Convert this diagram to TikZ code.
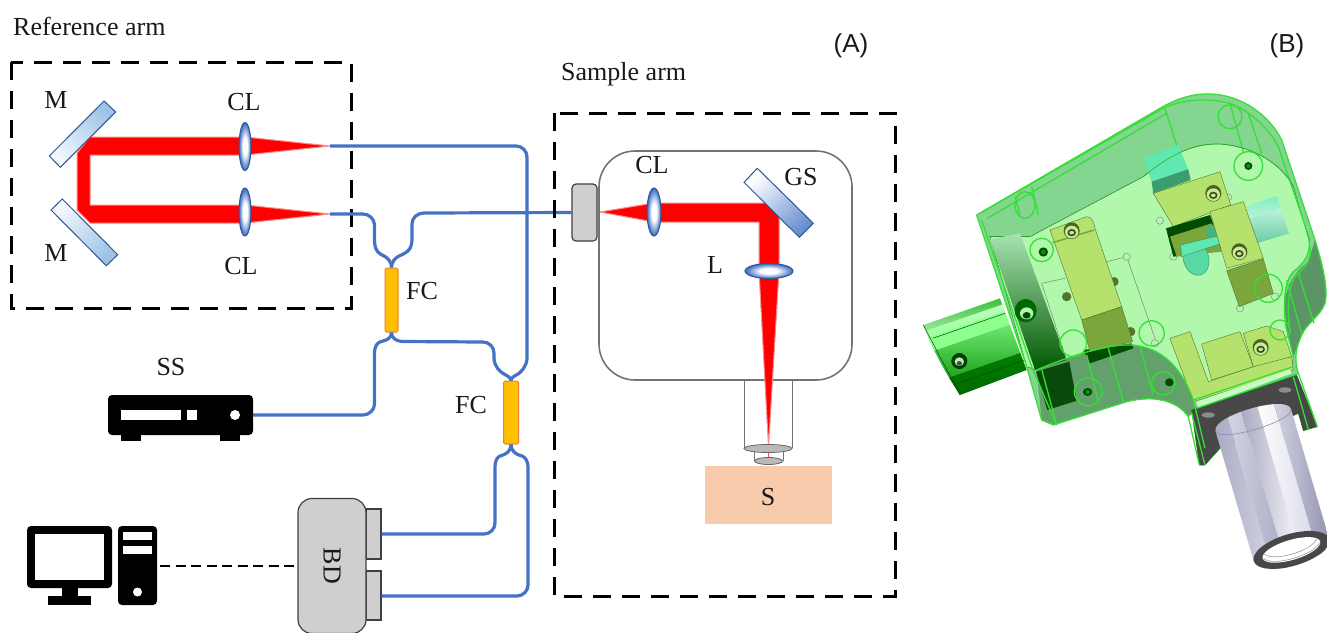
\documentclass[tikz,border=0pt]{standalone}
\usepackage{fontspec}
\setmainfont{Liberation Serif}
\setsansfont{Liberation Sans}
\usetikzlibrary{calc}
\definecolor{fibre}{HTML}{4472C4}
\definecolor{lensedge}{HTML}{2F5597}
\definecolor{mirrorA}{HTML}{9DC3E6}
\definecolor{mirrorB}{HTML}{F2F7FC}
\definecolor{devgray}{HTML}{D0CECE}
\definecolor{fcfill}{HTML}{FFC000}
\definecolor{fcedge}{HTML}{ED7D31}
\definecolor{samplefill}{HTML}{F8CBAD}
\definecolor{bodyDark}{HTML}{83D590}
\definecolor{bodyLight}{HTML}{B2F8AC}
\definecolor{wire}{HTML}{35E035}
\definecolor{yellowA}{HTML}{B4E26C}
\definecolor{yellowB}{HTML}{7BA63C}
\definecolor{tealA}{HTML}{5FE8B0}
\definecolor{tealB}{HTML}{3B9C6C}
\definecolor{silverA}{HTML}{A6A6C0}
\definecolor{silverB}{HTML}{D6D6E6}
\definecolor{silverC}{HTML}{8C8CAA}
\pgfdeclareradialshading{lensshade}{\pgfpoint{0bp}{0bp}}{color(0bp)=(white);color(9bp)=(white);color(24bp)=(fibre);color(50bp)=(fibre)}
\tikzset{
 txt/.style={font=\fontsize{26}{26}\selectfont,inner sep=0pt,text=black!90},
 sanstxt/.style={font=\sffamily\fontsize{26}{26}\selectfont,inner sep=0pt,text=black!90},
 armbox/.style={draw=black,line width=3pt,dash pattern=on 18pt off 11pt},
 fibreline/.style={draw=fibre,line width=3.2pt},
 beam/.style={fill=red,draw=red!45,line width=1pt,line join=round},
 mirror/.style={draw=lensedge,line width=1pt},
 lens/.style={draw=lensedge,line width=1pt,shading=lensshade},
 fc/.style={draw=fcedge,line width=1pt,fill=fcfill,rounded corners=1.5pt,inner sep=0pt},
 dev/.style={draw=black!75,line width=1.2pt,fill=devgray,inner sep=0pt},
 icon/.style={fill=black,rounded corners=4pt},
 hole/.style={fill=white},
 wireline/.style={draw=wire,line width=1.3pt},
 wirethin/.style={draw=wire!80!black,line width=.6pt},
 blocka/.style={fill=yellowA,draw=yellowB!70!black,line width=.4pt,line join=round},
 blockb/.style={fill=yellowB,draw=yellowB!70!black,line width=.4pt,line join=round},
}
\newcommand{\screw}[2]{%
 \fill[yellowB!60!black] (#1,#2) ellipse (24 and 25);
 \fill[yellowA!70!white] (#1,#2+4) ellipse (20 and 19);
 \fill[yellowB!50!black] (#1,#2+6) ellipse (13 and 11);
 \fill[yellowA!70!white] (#1,#2+6) ellipse (7 and 5);
}
\begin{document}
\begin{tikzpicture}[x=1pt,y=-1pt]
\useasboundingbox (0,0) rectangle (1327,632);
% ---------------- panel labels
\node[txt,anchor=west] (refl) at (13,26) {Reference arm};
\node[txt,anchor=west] (saml) at (561,74) {Sample arm};
\node[sanstxt] (A) at (851,46) {(A)};
\node[sanstxt] (B) at (1287,46) {(B)};
% ---------------- reference arm
\draw[beam] (90,137) -- (245,137) -- (245,155) -- (90,155) -- (90,205) -- (245,205) -- (245,223) -- (90,223) -- (77,210) -- (77,153) -- cycle;
\draw[beam] (245,137) -- (330,146) -- (245,155) -- cycle;
\draw[beam] (245,205) -- (330,214) -- (245,223) -- cycle;
\shade[mirror,left color=mirrorA,right color=mirrorB,shading angle=-45] (104,101) -- (115.7,112) -- (60.3,167.3) -- (49.3,156) -- cycle;
\shade[mirror,left color=mirrorB,right color=mirrorA,shading angle=45] (62.3,199) -- (51,210) -- (106.3,265.7) -- (117.7,254.7) -- cycle;
\shade[lens] (245,146.5) ellipse (6 and 24);
\shade[lens] (245,212) ellipse (6 and 24);
\coordinate (tipa) at (330,146);
\coordinate (tipb) at (330,214);
\node[txt] (m1) at (56,100) {M};
\node[txt] (m2) at (56,253) {M};
\node[txt] (cl1) at (244,102) {CL};
\node[txt] (cl2) at (241,266) {CL};
\draw[armbox] (11,62) rectangle (351,308);
% ---------------- couplers
\node[fc,minimum width=13pt,minimum height=64pt] (fca) at (391.5,300) {};
\node[fc,minimum width=15pt,minimum height=63pt] (fcb) at (511,412.5) {};
\node[txt] (fcal) at (422,291) {FC};
\node[txt] (fcbl) at (471,405) {FC};
% ---------------- devices
\node[dev,rounded corners=4pt,minimum width=25pt,minimum height=57pt] (coll) at (584.5,212.5) {};
\node[dev,minimum width=15pt,minimum height=50pt] (pa) at (373.5,534) {};
\node[dev,minimum width=15pt,minimum height=49pt] (pb) at (373.5,595.5) {};
\node[dev,rounded corners=14pt,minimum width=68pt,minimum height=135pt] (bd) at (332,566) {};
\node[txt,rotate=-90] (bdl) at (332,566) {BD};
\node[inner sep=0pt,minimum width=145pt,minimum height=40pt] (ss) at (180.5,415) {};
\node[inner sep=0pt,minimum width=130pt,minimum height=79pt] (pc) at (92,566) {};
\node[txt] (ssl) at (171,367) {SS};
% source icon
\fill[icon] (108,395) rectangle (253,435);
\fill (121,433) rectangle (141,441);
\fill (220,433) rectangle (240,441);
\fill[hole] (121,410) rectangle (181,420);
\fill[hole] (187,410) rectangle (197,420);
\fill[hole] (235,415) circle (5);
% computer icon
\fill[icon] (27,526) rectangle (112,588);
\fill[hole] (35,534) rectangle (104,580);
\fill (62,586) rectangle (78,597);
\fill (48,596) rectangle (91,605);
\fill[icon] (118,526) rectangle (157,605);
\fill[hole] (123,532) rectangle (152,540);
\fill[hole] (123,546) rectangle (152,554);
\fill[hole] (137.5,592) circle (4.5);
\draw[line width=1.4pt,dash pattern=on 10pt off 5.5pt] ([xshift=3pt]pc.east) -- (bd.west);
% ---------------- fibres
\path[fibreline] (tipa) -- (516,146) .. controls (522,146) and (527,151) .. (527,157) -- (527,358) .. controls (527,366) and (521,372) .. (518,374) .. controls (514,376) and (511,378) .. (fcb.north);
\path[fibreline] (tipb) -- (363,214) .. controls (369,214) and (374.5,219) .. (374.5,225) -- (374.5,240) .. controls (374.5,252) and (380,254) .. (384,256) .. controls (388,258) and (391.5,262) .. (fca.north);
\path[fibreline] (coll.west) -- (424,213) .. controls (417,213) and (412,218) .. (412,224) -- (412,240) .. controls (412,252) and (403,254) .. (399,256) .. controls (395,258) and (391.5,262) .. (fca.north);
\path[fibreline] (ss.east) -- (363,415) .. controls (369,415) and (374.5,410) .. (374.5,404) -- (374.5,354) .. controls (374.5,346) and (377,342) .. (383,341) .. controls (387,340) and (391.5,338) .. (fca.south);
\path[fibreline] (fca.south) .. controls (391.5,338) and (396,341) .. (402,341.5) -- (483,342) .. controls (489,342) and (494,347) .. (494,353) -- (494,358) .. controls (494,366) and (500,372) .. (504,374) .. controls (508,376) and (511,378) .. (fcb.north);
\path[fibreline] (fcb.south) .. controls (511,451) and (506,454) .. (503,455) .. controls (497,456) and (495,460) .. (495,468) -- (495,523) .. controls (495,529) and (490,534) .. (484,534) -- (pa.east |- 0,534);
\path[fibreline] (fcb.south) .. controls (511,451) and (516,454) .. (519,455) .. controls (525,456) and (528,460) .. (528,468) -- (528,585) .. controls (528,591) and (523,596) .. (517,596) -- (pb.east |- 0,596);
% ---------------- sample arm
\draw[armbox] (554,113) rectangle (895,596);
\draw[draw=black!55,line width=1.6pt,rounded corners=36pt] (599,151) rectangle (852,380);
\draw[beam] (600,212) -- (654,203) -- (766,203) -- (779,216) -- (779,271) -- (759,271) -- (759,222) -- (654,222) -- cycle;
\draw[draw=black!55,line width=1pt] (744,380) -- (744,448) (792,380) -- (792,448);
\draw[beam] (759,271) -- (779,271) -- (768.5,447) -- cycle;
\draw[draw=black!55,line width=1pt] (754,450) -- (754,461) (783,450) -- (783,461);
\draw[red!70,line width=1.5pt] (768.5,452) -- (768.5,458);
\draw[draw=black!60,fill=devgray!90!black,line width=.8pt] (768,448.5) ellipse (24 and 4);
\draw[draw=black!60,fill=devgray!90!black,line width=.8pt] (768.5,461) ellipse (14 and 3.5);
\shade[lens] (654,212) ellipse (7 and 24);
\shade[lens] (769,271) ellipse (24 and 7.5);
\shade[mirror,left color=white,right color=fibre!80,shading angle=45] (757.3,168.3) -- (744,182.3) -- (799.3,237.3) -- (813.3,223.3) -- cycle;
\node[fill=samplefill,inner sep=0pt,minimum width=127pt,minimum height=58pt] (smp) at (768.5,495) {};
\node[txt] (sl) at (768,497) {S};
\node[txt] (cl3) at (652,165) {CL};
\node[txt] (gs) at (801,177) {GS};
\node[txt] (ll) at (715,265) {L};
% ---------------- (B) CAD view, in crop coordinates
\begin{scope}[x=0.33333pt,y=-0.33333pt,shift={(2730,240)}]
 % handle: bands across its axis
 \begin{scope}
  \clip (40,735) -- (270,655) -- (350,870) -- (150,945) .. controls (120,900) and (60,800) .. cycle;
  \begin{scope}[rotate around={19:(200,800)}]
   \shade[top color=green!65!black,bottom color=white!80!green] (-100,680) rectangle (500,706);
   \shade[top color=white!80!green,bottom color=green!45!white] (-100,706) rectangle (500,726);
   \fill[green!45!white] (-100,726) rectangle (500,770);
   \shade[top color=green!45!white,bottom color=green!55!black] (-100,770) rectangle (500,860);
   \shade[top color=green!55!black,bottom color=green!35!black] (-100,860) rectangle (500,925);
  \end{scope}
 \end{scope}
 \draw[green!30!black,line width=.5pt] (68,775) -- (285,700) (130,915) -- (345,840) (40,735) -- (150,945);
 \fill[green!25!black] (148,843) ellipse (24 and 24);
 \fill[bodyLight] (148,845) ellipse (14 and 13);
 \fill[black!70] (148,850) ellipse (8 and 7);
 % body, dark part
 \path[fill=bodyDark] (200,405) -- (750,85) .. controls (810,50) and (860,40) .. (900,42) .. controls (1000,45) and (1080,110) .. (1115,180) -- (1215,480) .. controls (1240,560) and (1255,630) .. (1245,670) .. controls (1230,710) and (1190,730) .. (1175,765) .. controls (1160,800) and (1150,830) .. (1165,880) -- (860,985) -- (835,1010) .. controls (800,960) and (730,945) .. (650,965) -- (430,1035) -- (395,1020) -- (350,860) -- cycle;
 \path[fill=bodyDark!75!black] (380,870) .. controls (450,840) and (560,800) .. (640,795) .. controls (740,790) and (810,850) .. (850,960) -- (860,985) -- (835,1010) .. controls (800,960) and (730,945) .. (650,965) -- (430,1035) -- (395,1020) -- cycle;
 \path[fill=bodyDark!70!black] (1120,700) .. controls (1125,620) and (1150,580) .. (1195,545) -- (1215,480) .. controls (1240,560) and (1255,630) .. (1245,670) .. controls (1230,710) and (1190,730) .. (1175,765) -- (1150,830) -- cycle;
 % body, inner light part
 \path[fill=bodyLight,draw=green!45!black,line width=.4pt] (240,470) -- (360,470) -- (700,290) .. controls (790,215) and (860,190) .. (930,192) .. controls (1040,200) and (1120,260) .. (1150,320) -- (1197,480) .. controls (1205,530) and (1170,560) .. (1150,575) .. controls (1125,600) and (1118,660) .. (1128,740) -- (1150,830) -- (1145,870) -- (850,960) .. controls (810,850) and (740,790) .. (640,795) .. controls (560,800) and (450,840) .. (380,870) -- (350,860) -- cycle;
 % left gradient block
 \shade[top color=bodyDark!70!white,middle color=bodyLight!80!white,bottom color=green!35!black] (240,478) -- (330,460) -- (470,840) -- (375,870) -- cycle;
 \fill[green!25!black,opacity=.9] (378,875) -- (478,845) -- (500,962) -- (412,990) -- cycle;
 \fill[black!70!green] (520,810) -- (665,790) -- (670,805) -- (540,850) -- cycle;
 \fill[green!40!black] (347,692) ellipse (33 and 35);
 \fill[bodyLight] (350,700) ellipse (20 and 18);
 \fill[green!30!black] (350,706) ellipse (12 and 10);
 % thin recess outline and hidden posts
 \draw[black!50,line width=.5pt] (395,610) -- (465,595) (590,545) -- (650,530) -- (740,790) (395,610) -- (470,840);
 \fill[yellowB!70!black] (470,650) circle (14) (612,605) circle (14) (662,755) circle (14);
 \draw[black!45,line width=.5pt,fill=bodyLight] (650,530) circle (11) (735,790) circle (11) (990,685) circle (11) (790,530) circle (11) (1095,650) circle (11) (750,422) circle (11) (955,352) circle (10);
 % block A
 \path[blocka] (420,450) -- (530,410) .. controls (545,410) and (552,425) .. (555,445) -- (635,680) -- (515,720) -- cycle;
 \path[blockb] (515,720) -- (635,680) -- (668,785) -- (540,815) -- cycle;
 \draw[yellowB,line width=1.5pt] (428,488) -- (552,450);
 \screw{485}{452}
 % teal block and block B
 \path[fill=tealA] (700,235) -- (805,195) -- (835,270) -- (725,305) -- cycle;
 \path[fill=tealB] (725,305) -- (835,268) -- (842,300) -- (730,340) -- cycle;
 \path[blocka] (730,340) -- (930,275) -- (962,375) -- (790,440) -- cycle;
 \screw{910}{340}
 \fill[green!30!black] (768,445) -- (900,405) -- (940,510) -- (790,530) -- cycle;
 \fill[yellowB] (780,470) -- (905,430) -- (935,515) -- (800,530) -- cycle;
 % cylinder and small optics
 \begin{scope}
  \clip (1010,380) -- (1100,348) -- (1137,460) -- (1040,490) -- cycle;
  \begin{scope}[rotate around={19:(1070,420)}]
   \shade[top color=tealA,bottom color=tealA!30!white] (950,340) rectangle (1180,400);
   \shade[top color=tealA!30!white,bottom color=tealA!85!black] (950,400) rectangle (1180,480);
  \end{scope}
 \end{scope}
 \path[fill=tealB!70!tealA] (885,445) -- (925,430) -- (945,490) -- (905,505) -- cycle;
 \path[fill=tealA!80!tealB,draw=tealB,line width=.5pt,rotate around={15:(858,535)}] (858,535) ellipse (38 and 52);
 \path[fill=tealA,draw=tealB,line width=.5pt] (812,495) -- (935,465) -- (940,488) -- (815,530) -- cycle;
 % block C
 \path[blocka] (900,395) -- (1000,365) -- (1060,535) -- (950,565) -- cycle;
 \path[blockb] (950,572) -- (1060,537) -- (1090,640) -- (988,680) -- cycle;
 \screw{988}{515}
 % lower yellow parts
 \path[blocka] (780,775) -- (840,755) -- (895,905) -- (1090,840) -- (1145,830) -- (1150,870) -- (850,965) -- cycle;
 \path[blocka] (875,792) -- (990,755) -- (1030,860) -- (905,900) -- cycle;
 \path[blocka] (1000,760) -- (1070,738) -- (1120,755) -- (1145,830) -- (1030,860) -- cycle;
 \screw{1052}{802}
 \path[fill=bodyLight!70!white] (860,965) -- (1140,868) -- (1145,880) -- (865,985) -- cycle;
 % flange
 \path[fill=black!72,draw=green!50!black,line width=.5pt] (845,990) -- (1160,885) -- (1222,1040) -- (1180,1052) -- (1165,1000) -- (930,1105) -- (885,1155) -- (868,1155) -- cycle;
 \fill[black!45] (895,1005) ellipse (20 and 8) (1125,930) ellipse (20 and 8);
 % objective barrel
 \begin{scope}[rotate around={16.4:(1087,1215)}]
  \begin{scope}
   \clip (969,1012) .. controls (969,965) and (1205,965) .. (1205,1012) -- (1205,1418) .. controls (1205,1482) and (969,1482) .. (969,1418) -- cycle;
   \shade[left color=silverA,right color=silverB] (969,950) rectangle (1015,1490);
   \shade[left color=silverB,right color=silverA] (1015,950) rectangle (1060,1490);
   \shade[left color=silverA,right color=white] (1060,950) rectangle (1110,1490);
   \shade[left color=white,right color=silverB] (1110,950) rectangle (1160,1490);
   \shade[left color=silverB,right color=silverC] (1160,950) rectangle (1206,1490);
  \end{scope}
  \fill[black!72] (1087,1418) ellipse (118 and 48);
  \fill[white] (1087,1418) ellipse (90 and 30);
  \draw[black!40,line width=.6pt] (1000,1420) .. controls (1020,1452) and (1154,1452) .. (1174,1420) (1005,1408) .. controls (1030,1438) and (1144,1438) .. (1169,1408);
  \draw[silverC,line width=.6pt] (969,1012) .. controls (969,1050) and (1205,1050) .. (1205,1012);
 \end{scope}
 % inner details
 \fill[green!30!black] (400,516) ellipse (14 and 14);
 \fill[green!60!black] (400,516) ellipse (7 and 7);
 \fill[green!30!black] (533,936) ellipse (14 and 12);
 \fill[green!60!black] (533,936) ellipse (7 and 6);
 \fill[green!30!black] (778,907) ellipse (13 and 12);
 \fill[green!30!black] (1015,258) ellipse (12 and 12);
 \fill[green!60!black] (1015,258) ellipse (6 and 6);
 % wire frame
 \path[wireline,line join=round] (200,405) -- (750,85) .. controls (810,50) and (860,40) .. (900,42) .. controls (1000,45) and (1080,110) .. (1115,180) -- (1215,480) .. controls (1240,560) and (1255,630) .. (1245,670) .. controls (1230,710) and (1190,730) .. (1175,765) .. controls (1160,800) and (1150,830) .. (1165,880) -- (1222,1040);
 \path[wireline] (868,1155) -- (835,1010) .. controls (800,960) and (730,945) .. (650,965) -- (430,1035) -- (395,1020) -- (350,860) -- (200,405);
 \path[wireline] (218,395) -- (765,82) .. controls (830,55) and (900,55) .. (960,70) .. controls (1040,100) and (1090,170) .. (1105,200) -- (1200,480);
 \path[wireline] (232,415) -- (770,100);
 \path[wireline] (215,420) -- (365,860) -- (440,1035) (765,85) -- (800,195) (365,320) -- (385,405) (315,350) -- (330,405);
 \path[wireline] (380,870) .. controls (450,840) and (560,800) .. (640,795) .. controls (740,790) and (810,850) .. (850,960) -- (885,1105);
 \path[wireline] (395,868) -- (440,1035) (530,825) -- (565,965) (595,805) -- (640,965) (690,800) -- (730,945) (960,70) -- (1000,215) (1165,580) -- (1212,730) (1130,600) -- (1175,760);
 \path[wireline] (850,960) -- (1150,860) (860,985) -- (1165,880) (1150,890) -- (1195,1048) (845,1000) -- (885,1155);
 \path[wireline] (1197,480) .. controls (1205,530) and (1170,560) .. (1150,575) .. controls (1125,600) and (1118,660) .. (1128,740) -- (1150,830);
 \path[wireline] (1200,500) .. controls (1210,545) and (1170,575) .. (1155,590) .. controls (1135,620) and (1130,680) .. (1140,760);
 \path[wirethin] (700,290) .. controls (790,215) and (860,190) .. (930,192) .. controls (1040,200) and (1120,260) .. (1150,320);
 \path[wireline] (1015,258) circle (43) (960,110) circle (36) (535,935) circle (42) (725,760) circle (38) (490,790) circle (40) (1075,625) circle (42) (395,510) circle (35) (345,375) ellipse (30 and 40) (760,910) circle (35) (1110,750) circle (30);
 \path[wireline] (1015,100) -- (1055,220);
\end{scope}
\end{tikzpicture}
\end{document}
